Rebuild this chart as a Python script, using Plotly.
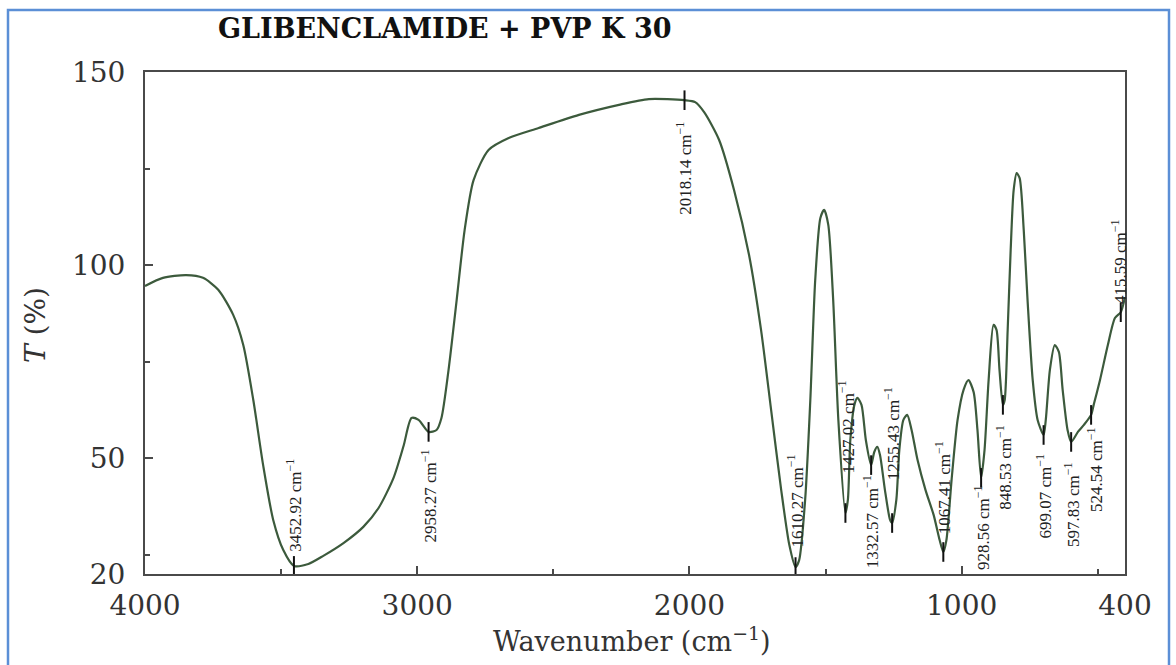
import numpy as np
import plotly.graph_objects as go

# ---------------- data ----------------
wavenumber = [4000, 3934, 3849, 3787, 3731, 3676, 3639, 3602, 3566, 3529, 3492, 3452.92,
              3400, 3345, 3271, 3198, 3142, 3087, 3050, 3021, 2995, 2958.27, 2929, 2911,
              2885, 2855, 2826, 2793, 2738, 2664, 2554, 2406, 2259, 2149, 2018.14, 1979,
              1946, 1891, 1836, 1781, 1737, 1700, 1663, 1633, 1610.27, 1597, 1575, 1556,
              1538, 1519, 1505, 1490, 1472, 1453, 1427.02, 1418, 1409, 1394, 1383, 1368,
              1352, 1332.57, 1321, 1310, 1300, 1282, 1263, 1255.43, 1240, 1229, 1214, 1200,
              1184, 1162, 1133, 1103, 1081, 1067.41, 1056, 1037, 1015, 993, 975, 956, 942,
              928.56, 916, 901, 883, 872, 861, 848.53, 842, 831, 820, 809, 798, 787, 772,
              758, 739, 721, 699.07, 691, 676, 658, 643, 629, 611, 597.83, 573, 551, 524.54,
              515, 492, 463, 437, 415.59, 400]
transmittance = [94.6, 96.7, 97.4, 96.7, 93.6, 87.1, 79.3, 65.0, 48.2, 34.0, 26.2, 22.1,
                 22.6, 24.7, 28.0, 32.2, 37.1, 44.9, 53.2, 60.4, 59.9, 56.8, 57.3, 60.4,
                 72.8, 91.0, 109.0, 122.0, 129.8, 132.9, 135.5, 138.9, 141.5, 143.0, 142.7, 142.2,
                 139.6, 132.4, 119.4, 102.6, 83.2, 62.5, 41.8, 27.5, 21.8, 23.6, 39.2, 65.0,
                 96.1, 112.2, 114.3, 110.4, 91.0, 59.9, 35.8, 39.2, 54.7, 63.8, 65.6, 63.8,
                 54.7, 48.2, 51.6, 52.9, 50.8, 41.8, 34.0, 33.2, 39.2, 52.1, 59.9, 61.2,
                 57.3, 49.5, 41.8, 35.3, 28.8, 25.7, 28.8, 44.4, 59.9, 67.7, 70.2, 67.1, 57.3,
                 44.9, 52.1, 70.2, 84.5, 83.2, 72.8, 63.8, 65.0, 83.2, 103.9, 119.4, 123.8, 122.5, 109.1,
                 91.0, 70.2, 59.9, 56.0, 59.9, 72.8, 79.3, 77.5, 67.7, 57.3, 54.2, 56.8, 58.6, 61.2,
                 63.8, 70.2, 79.3, 86.3, 87.8, 91.7]

peak_wavenumbers = [3452.92, 2958.27, 2018.14, 1610.27, 1427.02, 1332.57, 1255.43,
                    1067.41, 928.56, 848.53, 699.07, 597.83, 524.54, 415.59]
peak_labels = ["3452.92", "2958.27", "2018.14", "1610.27", "1427.02", "1332.57", "1255.43",
               "1067.41", "928.56", "848.53", "699.07", "597.83", "524.54", "415.59"]

x_tick_vals = [4000, 3000, 2000, 1000, 400]
x_tick_text = ["4000", "3000", "2000", "1000", "400"]
y_tick_vals = [20, 50, 100, 150]
y_tick_text = ["20", "50", "100", "150"]

# ---------------- layout/style ----------------
label_yshift = [61, -64, -68, 66, 86, -57, 89, 64, -50, -63, -62, -63, -55, 50]
label_xshift = [0, 0, 0, 0, 1, 0, 0, 0, 1, 1, 0, 1, 4, -2]

W, H = 1176, 665
L, R, T, B = 145, 51, 72, 91
pw, ph = W - L - R, H - T - B
def px(xp):
    return (xp - L) / pw
def py(yp):
    return (H - B - yp) / ph

axis_col = "#4a4a4a"
curve_col = "#3c5a3c"

wn_sorted = np.array(wavenumber[::-1])
t_sorted = np.array(transmittance[::-1])
peak_t = np.interp(peak_wavenumbers, wn_sorted, t_sorted)

fig = go.Figure()
fig.add_trace(go.Scatter(x=wavenumber, y=transmittance, mode="lines",
                         line=dict(color=curve_col, width=2.2, shape="spline", smoothing=0.7),
                         hoverinfo="x+y", showlegend=False))
fig.add_trace(go.Scatter(x=peak_wavenumbers, y=peak_t, mode="markers",
                         marker=dict(symbol="line-ns", size=14,
                                     line=dict(color="#111111", width=2)),
                         showlegend=False, hoverinfo="skip"))

annotations = []
for wn, lab, t, ys, xs in zip(peak_wavenumbers, peak_labels, peak_t, label_yshift, label_xshift):
    annotations.append(dict(x=wn, y=t, xref="x", yref="y", showarrow=False,
                            text=f"{lab} cm<sup>−1</sup>", textangle=-90,
                            xanchor="center", yanchor="middle",
                            yshift=ys, xshift=xs,
                            font=dict(family="Liberation Serif", size=17, color="#222222")))

annotations.append(dict(x=px(445), y=py(28), xref="paper", yref="paper", showarrow=False,
                        xanchor="center", yanchor="middle",
                        text="<b>GLIBENCLAMIDE + PVP K 30</b>",
                        font=dict(family="DejaVu Serif", size=27, color="#111111")))
annotations.append(dict(x=px(632), y=py(640), xref="paper", yref="paper", showarrow=False,
                        xanchor="center", yanchor="middle",
                        text="Wavenumber (cm<sup>−1</sup>)",
                        font=dict(family="DejaVu Serif", size=27, color="#333333")))
annotations.append(dict(x=px(35), y=py(325), xref="paper", yref="paper", showarrow=False,
                        xanchor="center", yanchor="middle",
                        text="<i>T</i> (%)", textangle=-90,
                        font=dict(family="DejaVu Serif", size=28, color="#333333")))

fig.update_layout(
    width=W, height=H,
    margin=dict(l=L, r=R, t=T, b=B),
    plot_bgcolor="white", paper_bgcolor="white",
    annotations=annotations,
    shapes=[dict(type="rect", xref="paper", yref="paper",
                 x0=px(8), x1=px(1169), y0=py(700), y1=py(10),
                 line=dict(color="#5b8fd6", width=2.5), layer="below")],
    xaxis=dict(range=[4000, 400], tickvals=x_tick_vals, ticktext=x_tick_text,
               showgrid=False, zeroline=False, showline=True, mirror=True,
               linecolor=axis_col, linewidth=2, ticks="inside", ticklen=8, tickwidth=2,
               tickcolor=axis_col, ticklabelstandoff=5,
               minor=dict(tickvals=[3500, 2500, 1500, 500], ticks="inside", ticklen=5,
                          tickcolor=axis_col, tickwidth=2),
               tickfont=dict(family="DejaVu Serif", size=28, color="#333333")),
    yaxis=dict(range=[20, 150], tickvals=y_tick_vals, ticktext=y_tick_text,
               showgrid=False, zeroline=False, showline=True, mirror=True,
               linecolor=axis_col, linewidth=2, ticks="inside", ticklen=8, tickwidth=2,
               tickcolor=axis_col, ticklabelstandoff=12,
               minor=dict(tickvals=[25, 75, 125], ticks="inside", ticklen=5,
                          tickcolor=axis_col, tickwidth=2),
               tickfont=dict(family="DejaVu Serif", size=28, color="#333333")),
)

fig.write_html("out.html", config={"displayModeBar": False},
               post_script="document.body.style.margin='0';document.documentElement.style.margin='0';")
